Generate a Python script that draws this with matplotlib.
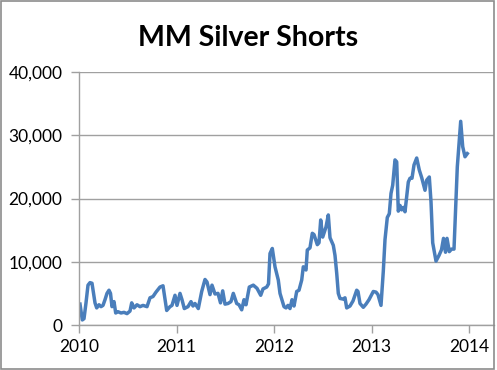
import matplotlib
matplotlib.use("Agg")
import matplotlib.pyplot as plt
from matplotlib.patches import Rectangle
from matplotlib.ticker import FuncFormatter

# pixel x positions (2010 axis at x=79, ~97.5 px per year)
px = [
    80, 82.3, 84, 86, 88, 90, 92, 95, 96.7, 99, 101, 103, 105, 107, 109, 110.5,
    112, 114, 115.7, 118, 121, 124, 127, 130, 131.7, 134, 137, 140, 143, 147,
    150, 153, 156, 160, 163, 166.7, 170, 172, 175, 177, 180, 182, 184.3, 188,
    191, 193, 195, 198.3, 201.7, 205, 207, 210, 212, 215, 218, 220.5, 222.7,
    225, 228, 231, 233.3, 236.7, 239, 241.7, 244, 246, 249.3, 253.3, 257,
    260.7, 263, 266.7, 268.5, 270, 272.3, 275, 278.3, 280, 284, 286, 288, 290,
    292, 294, 296.7, 299, 301.7, 303.3, 306, 307.3, 310, 312.3, 314, 317.3,
    319, 320.7, 322.7, 326, 328.3, 330, 333.3, 335, 336.7, 338.3, 340, 343,
    345, 346.7, 350, 353, 356.7, 358, 360, 363.3, 366, 369, 373.3, 376, 378,
    381, 383.3, 385, 387.3, 389.3, 391, 392.7, 395, 396.7, 398.3, 400, 401.7,
    403.5, 405, 408.3, 410, 412, 414, 416.7, 419.3, 421.7, 425, 426.7, 429.3,
    431, 432.7, 436, 439, 441.5, 443.5, 445.5, 447, 449.3, 451.5, 454, 455.5,
    457.3, 460.7, 462.7, 465, 467.3,
]
shorts = [
    3300, 800, 1000, 3500, 6300, 6700, 6600, 3500, 2700, 3200, 2900, 3100,
    4000, 5000, 5500, 5000, 2900, 3700, 1900, 2100, 1900, 2000, 1800, 2200,
    3500, 2700, 3200, 2900, 3100, 2900, 4300, 4500, 5200, 6000, 6200, 2300,
    2900, 3100, 4700, 3100, 5000, 4000, 2600, 2900, 3700, 3000, 3400, 2600,
    5300, 7200, 6800, 4800, 6300, 4900, 5000, 3500, 5400, 3300, 3400, 3700,
    5000, 3400, 3200, 2400, 4000, 3200, 6000, 6300, 5800, 4700, 5700, 6000,
    6500, 11300, 12100, 9200, 7100, 5000, 2900, 2700, 3100, 2600, 4000, 3000,
    5300, 5500, 7100, 9200, 8700, 11850, 12200, 14500, 14300, 12700, 13000,
    16600, 13900, 15500, 17400, 13800, 12600, 11000, 8200, 5000, 4200, 4100,
    4300, 2700, 3000, 3800, 5500, 5300, 3400, 2800, 3300, 4000, 5300, 5200,
    4800, 3100, 8500, 13500, 17000, 17600, 20800, 22100, 26100, 25800, 18000,
    18900, 18200, 18600, 17900, 22600, 23200, 23200, 25300, 26400, 24500,
    23300, 21300, 22900, 23400, 19500, 13000, 10100, 11000, 11900, 13700,
    11500, 13700, 11600, 12000, 12000, 18000, 25000, 32200, 28200, 26600,
    27100,
]
years = [2010 + (x - 79) / 97.5 for x in px]

year_ticks = [2010, 2011, 2012, 2013, 2014]
value_ticks = [0, 10000, 20000, 30000, 40000]

plt.rcParams["font.family"] = ["Lato", "DejaVu Sans"]

fig = plt.figure(figsize=(4.97, 3.70), dpi=100)
ax = fig.add_axes([79 / 497, 1 - 325 / 370, (494 - 79) / 497, (325 - 72) / 370])

ax.plot(years, shorts, color="#4a7ebb", linewidth=2.5, solid_joinstyle="round")

ax.set_xlim(2010, 2010 + (494 - 79) / 97.5)
ax.set_ylim(0, 40000)
ax.set_xticks(year_ticks)
ax.set_yticks(value_ticks)
ax.yaxis.set_major_formatter(FuncFormatter(lambda v, _: f"{int(v):,}"))
ax.grid(axis="y", color="#a0a0a0", linewidth=1.0)
ax.set_axisbelow(True)
for side in ["top", "right"]:
    ax.spines[side].set_visible(False)
for side in ["left", "bottom"]:
    ax.spines[side].set_color("#a0a0a0")
    ax.spines[side].set_linewidth(1.0)
ax.tick_params(axis="both", colors="#a0a0a0", labelcolor="black", labelsize=12.5,
               length=6, width=1.0)
ax.tick_params(axis="x", pad=4)
ax.tick_params(axis="y", pad=6)

fig.text(248 / 497, 1 - 38 / 370, "MM Silver Shorts", ha="center", va="center",
         fontsize=20.5, fontweight="bold")

fig.patches.append(Rectangle((0.002, 0.003), 0.992, 0.993, transform=fig.transFigure,
                             fill=False, edgecolor="#8c8c8c", linewidth=1.2))

fig.savefig("out.png", dpi=100)
